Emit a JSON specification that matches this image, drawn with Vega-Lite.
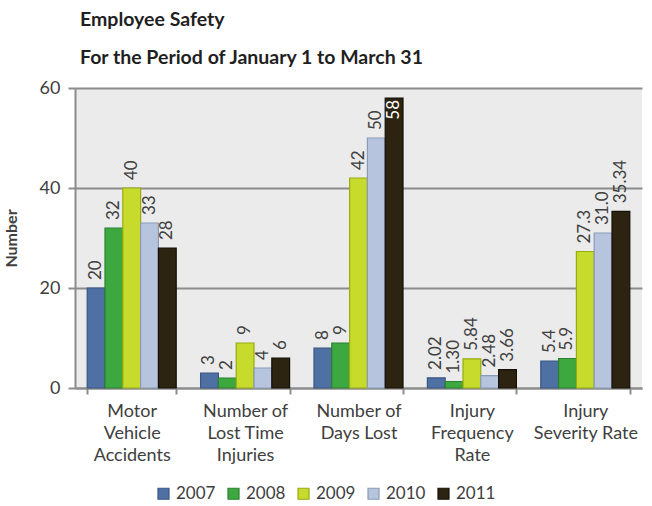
{
  "$schema": "https://vega.github.io/schema/vega-lite/v6.json",
  "width": 567,
  "height": 300,
  "autosize": {"type": "none"},
  "padding": {"left": 75, "top": 88, "right": 10, "bottom": 118},
  "background": "white",
  "config": {
    "font": "Lato",
    "view": {"fill": "#ebebeb", "stroke": null},
    "axis": {"labelFont": "Lato", "titleFont": "Lato"}
  },
  "title": {
    "text": ["Employee Safety", "For the Period of January 1 to March 31"],
    "anchor": "start",
    "frame": "group",
    "dx": 5,
    "offset": 11,
    "fontSize": 19.5,
    "fontWeight": "bold",
    "color": "#1f1f1f",
    "lineHeight": 38,
    "font": "Lato"
  },
  "data": {
    "values": [
      {"category": "Motor Vehicle Accidents", "year": "2007", "value": 20, "label": "20"},
      {"category": "Motor Vehicle Accidents", "year": "2008", "value": 32, "label": "32"},
      {"category": "Motor Vehicle Accidents", "year": "2009", "value": 40, "label": "40"},
      {"category": "Motor Vehicle Accidents", "year": "2010", "value": 33, "label": "33"},
      {"category": "Motor Vehicle Accidents", "year": "2011", "value": 28, "label": "28"},
      {"category": "Number of Lost Time Injuries", "year": "2007", "value": 3, "label": "3"},
      {"category": "Number of Lost Time Injuries", "year": "2008", "value": 2, "label": "2"},
      {"category": "Number of Lost Time Injuries", "year": "2009", "value": 9, "label": "9"},
      {"category": "Number of Lost Time Injuries", "year": "2010", "value": 4, "label": "4"},
      {"category": "Number of Lost Time Injuries", "year": "2011", "value": 6, "label": "6"},
      {"category": "Number of Days Lost", "year": "2007", "value": 8, "label": "8"},
      {"category": "Number of Days Lost", "year": "2008", "value": 9, "label": "9"},
      {"category": "Number of Days Lost", "year": "2009", "value": 42, "label": "42"},
      {"category": "Number of Days Lost", "year": "2010", "value": 50, "label": "50"},
      {"category": "Number of Days Lost", "year": "2011", "value": 58, "label": "58"},
      {"category": "Injury Frequency Rate", "year": "2007", "value": 2.02, "label": "2.02"},
      {"category": "Injury Frequency Rate", "year": "2008", "value": 1.30, "label": "1.30"},
      {"category": "Injury Frequency Rate", "year": "2009", "value": 5.84, "label": "5.84"},
      {"category": "Injury Frequency Rate", "year": "2010", "value": 2.48, "label": "2.48"},
      {"category": "Injury Frequency Rate", "year": "2011", "value": 3.66, "label": "3.66"},
      {"category": "Injury Severity Rate", "year": "2007", "value": 5.4, "label": "5.4"},
      {"category": "Injury Severity Rate", "year": "2008", "value": 5.9, "label": "5.9"},
      {"category": "Injury Severity Rate", "year": "2009", "value": 27.3, "label": "27.3"},
      {"category": "Injury Severity Rate", "year": "2010", "value": 31.0, "label": "31.0"},
      {"category": "Injury Severity Rate", "year": "2011", "value": 35.34, "label": "35.34"}
    ]
  },
  "encoding": {
    "x": {
      "field": "category",
      "type": "nominal",
      "sort": null,
      "scale": {"paddingInner": 0.215, "paddingOuter": 0.1075},
      "axis": {
        "title": null,
        "labelAngle": 0,
        "labelFontSize": 18,
        "labelColor": "#404040",
        "labelLineHeight": 22,
        "labelPadding": 8,
        "labelBaseline": "top",
        "tickBand": "extent",
        "tickColor": "#8c8c8c",
        "tickWidth": 2,
        "tickSize": 6,
        "domainColor": "#8c8c8c",
        "domainWidth": 2,
        "labelExpr": "{'Motor Vehicle Accidents':['Motor','Vehicle','Accidents'],'Number of Lost Time Injuries':['Number of','Lost Time','Injuries'],'Number of Days Lost':['Number of','Days Lost'],'Injury Frequency Rate':['Injury','Frequency','Rate'],'Injury Severity Rate':['Injury','Severity Rate']}[datum.value]"
      }
    },
    "xOffset": {"field": "year", "type": "nominal", "scale": {"paddingInner": 0, "paddingOuter": 0}},
    "y": {
      "field": "value",
      "type": "quantitative",
      "scale": {"domain": [0, 60], "nice": false},
      "axis": {
        "title": "Number",
        "titleFontSize": 16,
        "titleFontWeight": "bold",
        "titleColor": "#404040",
        "titlePadding": 20,
        "values": [0, 20, 40, 60],
        "labelFontSize": 18,
        "labelColor": "#404040",
        "labelPadding": 8,
        "gridColor": "#8c8c8c",
        "gridWidth": 2,
        "domainColor": "#8c8c8c",
        "domainWidth": 2,
        "tickColor": "#8c8c8c",
        "tickWidth": 2,
        "tickSize": 7
      }
    }
  },
  "layer": [
    {
      "mark": {"type": "bar", "strokeWidth": 1.2},
      "encoding": {
        "color": {
          "field": "year",
          "type": "nominal",
          "scale": {
            "domain": ["2007", "2008", "2009", "2010", "2011"],
            "range": ["#4f70a3", "#3ca83f", "#c6db2b", "#b6c5dd", "#2c2410"]
          },
          "legend": {
            "title": null,
            "orient": "none",
            "legendX": 80,
            "legendY": 397,
            "direction": "horizontal",
            "symbolType": "square",
            "symbolSize": 121,
            "symbolStrokeWidth": 1.2,
            "labelFontSize": 17,
            "labelColor": "#404040",
            "labelOffset": 4,
            "columnPadding": 9
          }
        },
        "stroke": {
          "field": "year",
          "type": "nominal",
          "scale": {
            "domain": ["2007", "2008", "2009", "2010", "2011"],
            "range": ["#3a5683", "#2b8230", "#98ab12", "#8a9bb8", "#14100a"]
          },
          "legend": null
        }
      }
    },
    {
      "transform": [{"filter": "datum.value < 55"}],
      "mark": {"type": "text", "angle": 270, "align": "left", "baseline": "middle", "dx": 8, "fontSize": 17, "color": "#404040"},
      "encoding": {"text": {"field": "label"}}
    },
    {
      "transform": [{"filter": "datum.value >= 55"}],
      "mark": {"type": "text", "angle": 270, "align": "right", "baseline": "middle", "dx": -2, "fontSize": 17, "color": "white"},
      "encoding": {"text": {"field": "label"}}
    }
  ]
}
